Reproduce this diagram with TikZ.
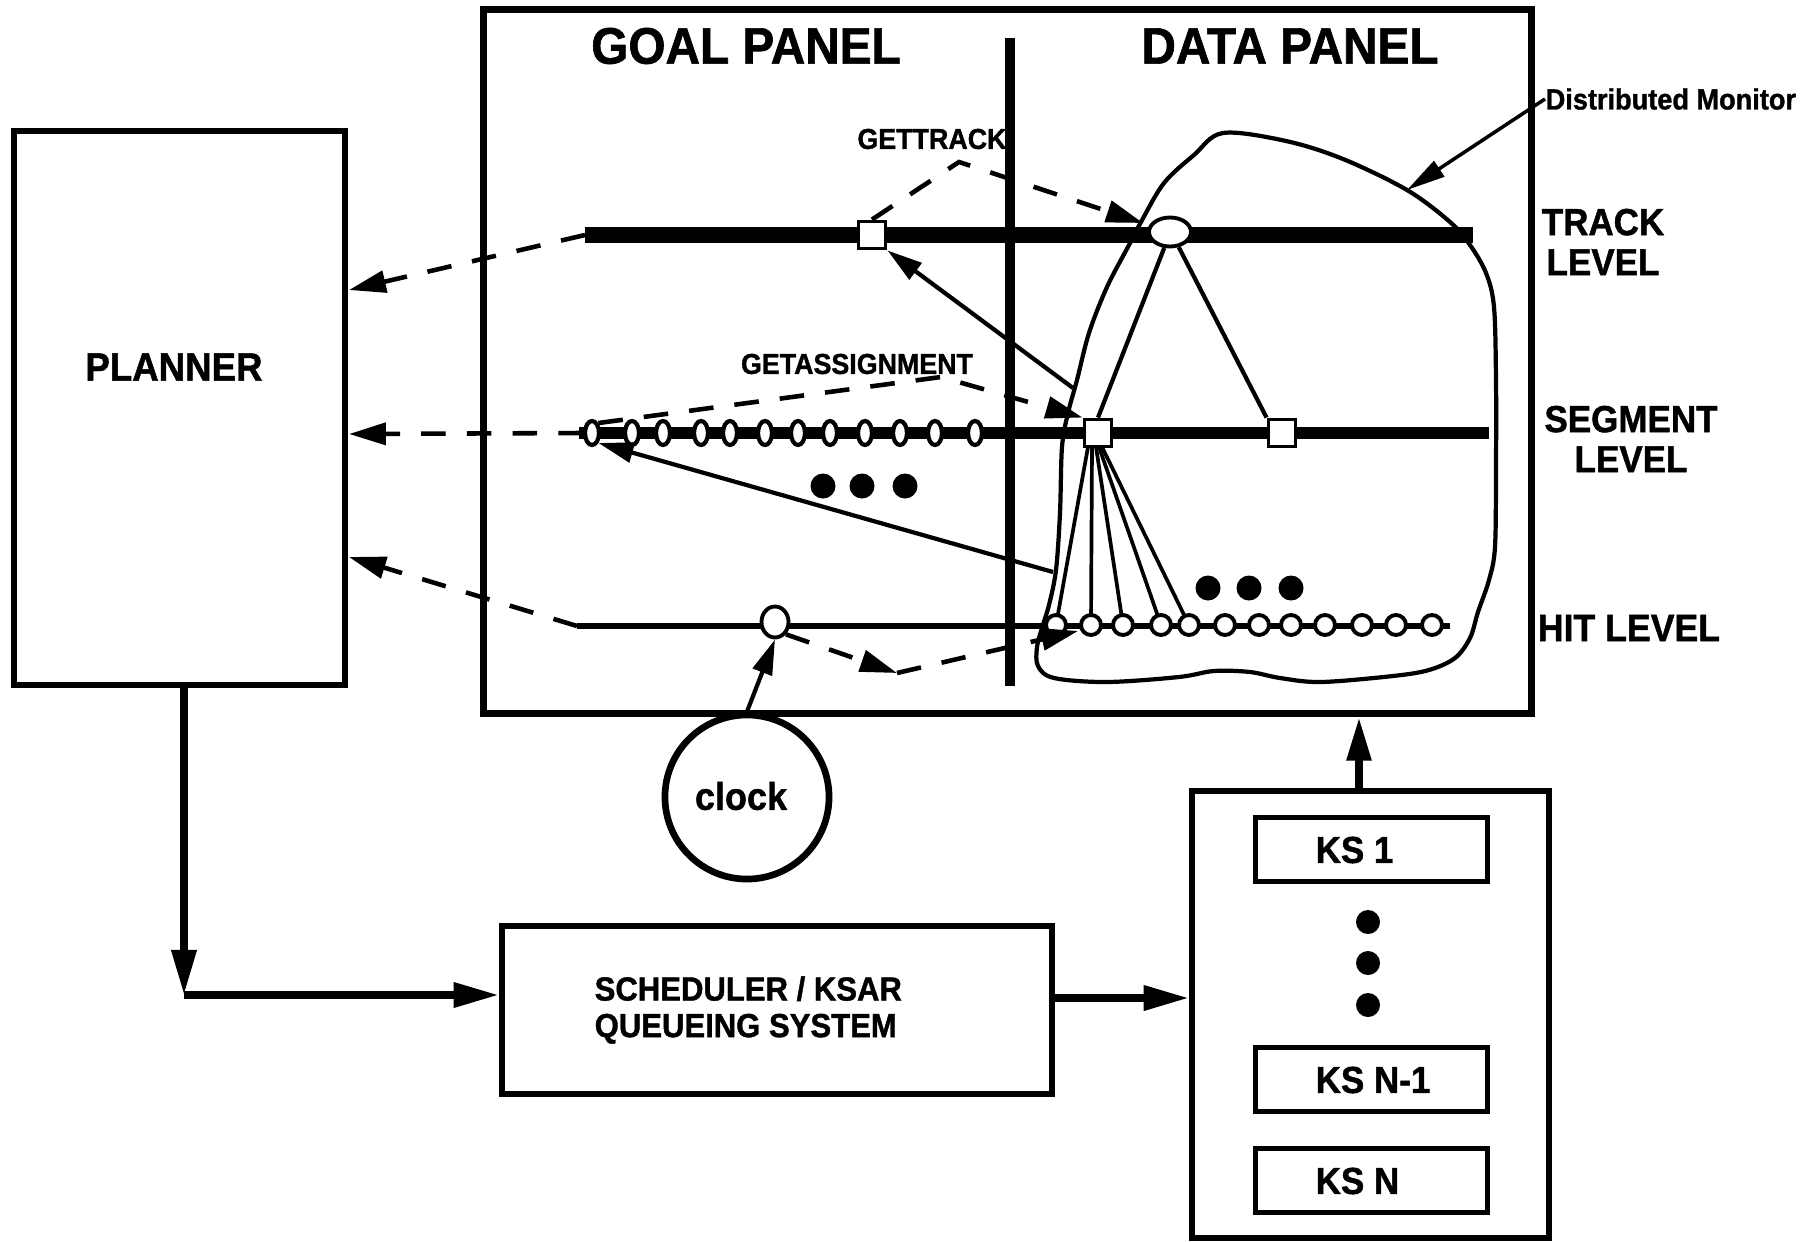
\documentclass[tikz,border=0pt]{standalone}
\usepackage{fontspec}
\newfontfamily\lab{Liberation Sans}[FakeStretch=0.93, BoldFeatures={FakeBold=1.2}]
\usetikzlibrary{arrows.meta,shapes.geometric,calc}

\tikzset{
  box/.style={draw, line width=1.8pt, inner sep=0pt},
  kscell/.style={draw, line width=1.4pt, inner sep=0pt, minimum width=2.31cm, minimum height=0.64cm},
  txt/.style={inner sep=0pt, font=\lab\bfseries\fontsize{#1}{#1}\selectfont},
  flow/.style={line width=2pt, -{Triangle[length=12.8pt,width=6.8pt]}},
  ask/.style={line width=1.3pt, dash pattern=on 7pt off 6pt, -{Triangle[length=10.5pt,width=6.2pt]}},
  link/.style={line width=1.2pt, -{Triangle[length=10pt,width=5.7pt]}},
  sq/.style={draw, fill=white, line width=1.1pt, minimum size=0.27cm, inner sep=0pt},
  bead/.style={draw, fill=white, ellipse, line width=1.2pt, minimum width=0.14cm, minimum height=0.24cm, inner sep=0pt},
  hitnode/.style={draw, fill=white, circle, line width=1.1pt, minimum size=0.2cm, inner sep=0pt},
  blackdot/.style={fill=black},
}

\begin{document}
\begin{tikzpicture}[x=0.01cm, y=-0.01cm]
\fill[white] (0,0) rectangle (1814,1242);
\useasboundingbox (0,0) rectangle (1814,1242);

% ---------------- outer boxes ----------------
\node[box, minimum width=3.31cm, minimum height=5.54cm] (planner) at (179.5,408) {};
\node[txt=11.2pt] (plannerlbl) at (174,367) {PLANNER};

\node[box, line width=2pt, minimum width=10.47cm, minimum height=7.03cm] (panel) at (1007.5,361.5) {};

\node[box, minimum width=5.50cm, minimum height=1.68cm] (scheduler) at (777,1010) {};
\node[anchor=west, align=left, inner sep=0pt, font=\lab\bfseries\fontsize{9.5pt}{10.4pt}\selectfont] (schedlbl) at (594,1010) {SCHEDULER / KSAR\\QUEUEING SYSTEM};

\node[box, minimum width=3.57cm, minimum height=4.47cm] (ksbox) at (1370.5,1014.5) {};
\node[kscell] (ks1) at (1371.5,849.5) {};
\node[kscell] (ksn1) at (1371.5,1079.5) {};
\node[kscell] (ksn) at (1371.5,1180.5) {};
\node[txt=10.7pt, anchor=west] (ks1lbl) at (1315,850) {KS 1};
\node[txt=10.7pt, anchor=west] (ksn1lbl) at (1315,1080) {KS N-1};
\node[txt=10.7pt, anchor=west] (ksnlbl) at (1315,1181) {KS N};
\fill[blackdot] (1368,922) circle (12);
\fill[blackdot] (1368,963) circle (12);
\fill[blackdot] (1368,1005) circle (12);

\node[draw, circle, line width=1.9pt, minimum size=1.64cm, inner sep=0pt] (clock) at (747,797) {};
\node[txt=11pt] (clocklbl) at (741,796) {clock};

% ---------------- panel headings and level labels ----------------
\node[txt=14.6pt] (goalhead) at (746,46) {GOAL PANEL};
\node[txt=14.6pt] (datahead) at (1290,46) {DATA PANEL};
\node[txt=8.2pt] (gettrack) at (932,139) {GETTRACK};
\node[txt=8.2pt] (getassign) at (857,364) {GETASSIGNMENT};
\node[txt=8.3pt, anchor=west] (dm) at (1545,99) {Distributed Monitor};
\node[align=center, inner sep=0pt, font=\lab\bfseries\fontsize{10.7pt}{11.4pt}\selectfont] (tracklvl) at (1603,242) {TRACK\\LEVEL};
\node[align=center, inner sep=0pt, font=\lab\bfseries\fontsize{10.7pt}{11.4pt}\selectfont] (seglvl) at (1631,439) {SEGMENT\\LEVEL};
\node[txt=10.9pt] (hitlvl) at (1629,628) {HIT LEVEL};

% ---------------- distributed monitor outline ----------------
\draw[line width=1.2pt] plot[smooth cycle, tension=0.55] coordinates {
  (1223,133) (1286,141) (1343,159) (1407,190) (1450,222) (1470,245)
  (1486,273) (1494,307) (1496,380) (1496,467) (1495,547) (1489,580)
  (1478,612) (1470,638) (1455,658) (1429,670) (1393,676) (1321,682)
  (1280,678) (1250,672) (1214,671) (1179,677) (1107,682) (1054,678)
  (1038,666) (1037,647) (1042,628) (1049,605) (1056,570) (1060,513)
  (1062,447) (1068,413) (1077,380) (1089,333) (1107,287) (1129,245)
  (1141,222) (1164,183) (1194,155)};

% ---------------- level lines and divider ----------------
\coordinate (tL) at (585,235);
\coordinate (tR) at (1473,235);
\coordinate (sL) at (579,433);
\coordinate (sR) at (1489,433);
\coordinate (hL) at (577,626);
\coordinate (hR) at (1450,626);
\coordinate (dT) at (1010,38);
\coordinate (dB) at (1010,686);
\draw[line width=4.8pt] (tL) -- (tR);
\draw[line width=3.4pt] (sL) -- (sR);
\draw[line width=1.5pt] (hL) -- (hR);
\draw[line width=3.1pt] (dT) -- (dB);

% ---------------- blackboard objects ----------------
\node[sq] (sqT) at (872,235) {};
\node[draw, fill=white, ellipse, line width=1.1pt, minimum width=0.42cm, minimum height=0.29cm, inner sep=0pt] (elT) at (1170,232) {};
\node[sq] (sqS1) at (1098,433) {};
\node[sq] (sqS2) at (1282,433) {};

\foreach \x [count=\i] in {592,632,663,701,730,765,798,830,865,900,935,975}
  \node[bead] (b\i) at (\x,433) {};

\node[draw, fill=white, ellipse, line width=1.1pt, minimum width=0.27cm, minimum height=0.31cm, inner sep=0pt] (hG) at (775,622) {};

% links from the track object down to its segments
\draw[line width=1.2pt] (elT.250) -- (sqS1.north);
\draw[line width=1.2pt] (elT.300) -- (sqS2.north west);

% fan from the segment object to its hits
\coordinate (f1) at (1088,447);
\coordinate (f2) at (1092,447);
\coordinate (f3) at (1096,447);
\coordinate (f4) at (1099,447);
\coordinate (f5) at (1102,447);
\foreach \x [count=\i] in {1056,1091,1123,1161,1189,1225,1259,1291,1325,1362,1396,1432}
  \coordinate (hp\i) at (\x,625);
\foreach \i in {1,...,5}
  \draw[line width=1.05pt] (f\i) -- (hp\i);
\foreach \i in {1,...,12}
  \node[hitnode] (h\i) at (hp\i) {};

\fill[blackdot] (823,486) circle (12.5);
\fill[blackdot] (862,486) circle (12.5);
\fill[blackdot] (905,486) circle (12.5);
\fill[blackdot] (1208,588) circle (12.5);
\fill[blackdot] (1249,588) circle (12.5);
\fill[blackdot] (1291,588) circle (12.5);

% ---------------- goal requests (dashed) ----------------
\coordinate (gtPeak) at (959,162);
\coordinate (gtEnd) at (1143,223);
\draw[ask] (sqT.north) -- (gtPeak) -- (gtEnd);

\coordinate (gaPeak) at (941,377);
\draw[ask] (b1.north east) -- (gaPeak) -- (sqS1.north west);

\coordinate (hitCorner) at (897,673);
\coordinate (hitEnd) at (1078,631);
\draw[ask] (hG.south east) -- (hitCorner);
\draw[ask] (hitCorner) -- (hitEnd);

% reports to the planner
\coordinate (pT) at (349,290);
\coordinate (pS) at (349,434);
\coordinate (pH) at (349,557);
\draw[ask] (tL) -- (pT);
\draw[ask] (b1.west) -- (pS);
\draw[ask] (hL) -- (pH);

% ---------------- monitor notifications (solid) ----------------
\coordinate (mA) at (1073,388);
\coordinate (mB) at (1053,572);
\draw[link] (mA) -- (sqT.south east);
\draw[link] (mB) -- (b1.south east);
\draw[link] (clock.north) -- (hG.south);

\coordinate (dmTip) at (1407,190);
\draw[line width=1pt, -{Triangle[length=11pt,width=5.2pt]}] (dm.west) -- (dmTip);

% ---------------- control flow ----------------
\coordinate (plx) at (184,685);
\coordinate (corner) at (184,995);
\draw[flow] (plx) -- (corner);
\draw[flow] (corner) -- (corner -| scheduler.west);

\coordinate (sk) at (0,998);
\draw[flow] (scheduler.east |- sk) -- (ksbox.west |- sk);

\coordinate (kp) at (1359,0);
\draw[line width=2.3pt, -{Triangle[length=12.5pt,width=6.6pt]}] (ksbox.north -| kp) -- (panel.south -| kp);
\end{tikzpicture}
\end{document}
